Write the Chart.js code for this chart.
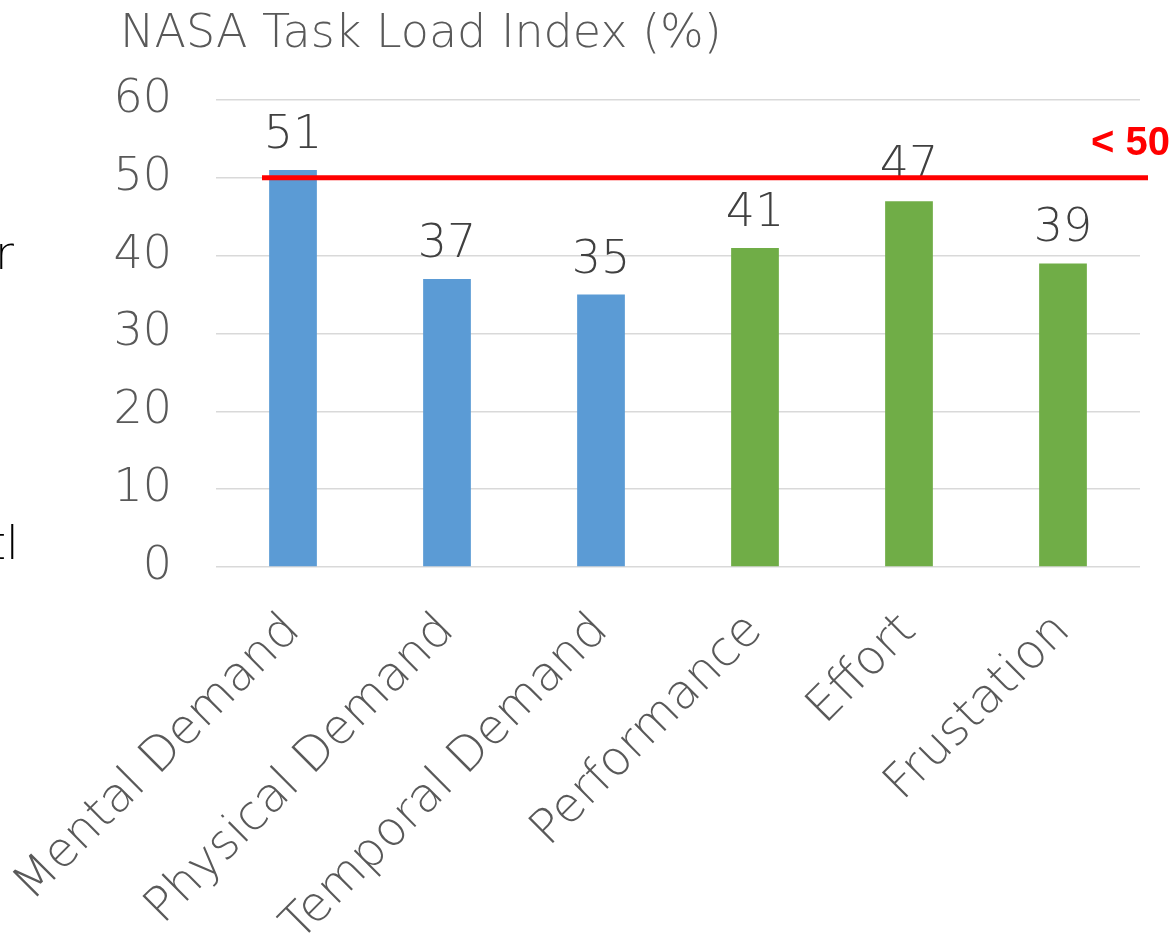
<!DOCTYPE html>
<html>
<head>
<meta charset="utf-8">
<script src="https://cdn.jsdelivr.net/npm/chart.js@4.4.1/dist/chart.umd.min.js"></script>
<style>
  html, body { margin: 0; padding: 0; background: #fff; overflow: hidden; }
  #wrap { position: relative; width: 1174px; height: 936px; }
  #title { position: absolute; left: 120px; top: 4px; font: 200 46px "DejaVu Sans", sans-serif; color: #595959; white-space: nowrap; }
  .stray { position: absolute; font: 200 46px "DejaVu Sans", sans-serif; color: #000; white-space: nowrap; }
</style>
</head>
<body>
<div id="wrap">
  <div id="title">NASA Task Load Index (%)</div>
  <div class="stray" style="left:-5px; top:226px;">r</div>
  <div class="stray" style="left:-12px; top:516px;">tl</div>
  <canvas id="tlx" width="1174" height="936"></canvas>
</div>
<script>
// 항목
const categories = ["Mental Demand", "Physical Demand", "Temporal Demand", "Performance", "Effort", "Frustation"];
// 점수 (%)
const scores = [51, 37, 35, 41, 47, 39];
const barColors = ["#5b9bd5", "#5b9bd5", "#5b9bd5", "#70ad47", "#70ad47", "#70ad47"];
// y축 눈금
const yTicks = [0, 10, 20, 30, 40, 50, 60];
// 기준선
const threshold = 50;
const thresholdLabel = "< 50";

const fontFamily = '"DejaVu Sans", sans-serif';

// 막대 위 값 표시
const valueLabels = {
  id: "valueLabels",
  afterDatasetsDraw(chart) {
    const ctx = chart.ctx;
    const meta = chart.getDatasetMeta(0);
    ctx.save();
    ctx.font = "200 46px " + fontFamily;
    ctx.fillStyle = "#404040";
    ctx.textAlign = "center";
    ctx.textBaseline = "alphabetic";
    meta.data.forEach(function(bar, i){
      ctx.fillText(String(scores[i]), bar.x, bar.y - 22);
    });
    ctx.restore();
  }
};

// 빨간 기준선
const thresholdLine = {
  id: "thresholdLine",
  afterDraw(chart) {
    const ctx = chart.ctx;
    const y = chart.scales.y.getPixelForValue(threshold);
    const x0 = chart.scales.x.getPixelForValue(0) - 31;
    const x1 = chart.chartArea.right + 8;
    ctx.save();
    ctx.strokeStyle = "#ff0000";
    ctx.lineWidth = 5;
    ctx.beginPath();
    ctx.moveTo(x0, y);
    ctx.lineTo(x1, y);
    ctx.stroke();
    ctx.font = "bold 40px 'Liberation Sans', sans-serif";
    ctx.fillStyle = "#ff0000";
    ctx.textAlign = "right";
    ctx.textBaseline = "alphabetic";
    ctx.fillText(thresholdLabel, 1170, y - 23);
    ctx.restore();
  }
};

new Chart(document.getElementById("tlx"), {
  type: "bar",
  data: {
    labels: categories,
    datasets: [{
      data: scores,
      backgroundColor: barColors,
      barPercentage: 0.31,
      categoryPercentage: 1.0
    }]
  },
  options: {
    responsive: false,
    animation: false,
    layout: { padding: { top: 100, right: 34, left: 0, bottom: 0 } },
    plugins: {
      legend: { display: false },
      tooltip: { enabled: false },
      title: { display: false }
    },
    scales: {
      y: {
        min: 0,
        max: 60,
        afterBuildTicks(scale) {
          scale.ticks = yTicks.map(v => ({ value: v }));
        },
        afterFit(scale) { scale.width = 216; },
        border: { display: false },
        grid: { color: "#d9d9d9", lineWidth: 1.5, drawTicks: false },
        ticks: {
          color: "#595959",
          padding: 44,
          font: { family: fontFamily, size: 46, weight: 200 }
        }
      },
      x: {
        afterFit(scale) {
          scale.height = 369;
          scale.paddingLeft = 0;
          scale.paddingRight = 0;
        },
        border: { display: false },
        grid: { display: false, drawTicks: false },
        ticks: {
          color: "#595959",
          minRotation: 45,
          maxRotation: 45,
          padding: 36,
          font: { family: fontFamily, size: 48, weight: 200 }
        }
      }
    }
  },
  plugins: [valueLabels, thresholdLine]
});
</script>
</body>
</html>
